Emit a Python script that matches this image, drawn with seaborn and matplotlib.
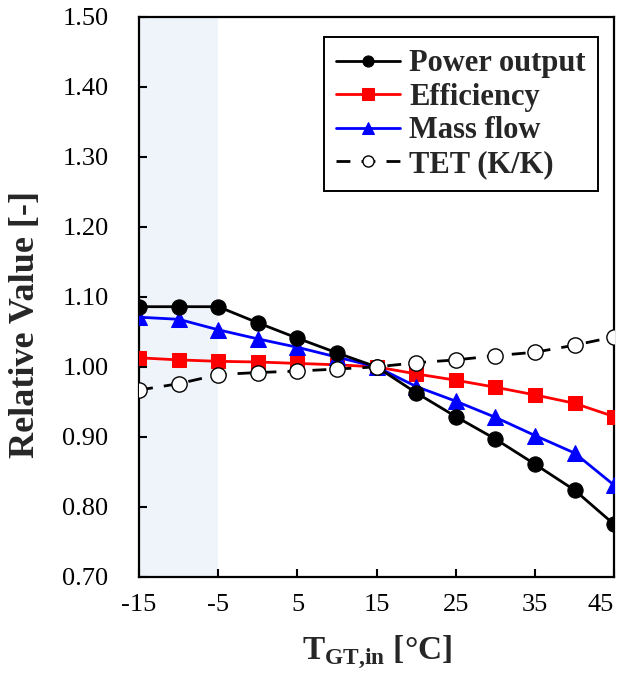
import matplotlib
matplotlib.use("Agg")
import matplotlib.pyplot as plt
import pandas as pd
import seaborn as sns

# -------------------------------
# Data
# -------------------------------
temps = [-15, -10, -5, 0, 5, 10, 15, 20, 25, 30, 35, 40, 45]
power_output = [1.086, 1.086, 1.086, 1.063, 1.041, 1.020, 1.000, 0.963, 0.929, 0.897, 0.861, 0.824, 0.775]
efficiency = [1.013, 1.010, 1.008, 1.007, 1.005, 1.003, 1.000, 0.990, 0.981, 0.971, 0.960, 0.948, 0.929]
mass_flow = [1.071, 1.068, 1.053, 1.040, 1.028, 1.014, 1.000, 0.972, 0.951, 0.928, 0.902, 0.877, 0.831]
tet = [0.967, 0.976, 0.989, 0.992, 0.994, 0.997, 1.000, 1.006, 1.010, 1.016, 1.021, 1.031, 1.043]

shade_range = (-15, -5)
x_ticks = [-15, -5, 5, 15, 25, 35, 45]
y_ticks = [0.70, 0.80, 0.90, 1.00, 1.10, 1.20, 1.30, 1.40, 1.50]

df = pd.DataFrame({
    "T": temps,
    "Power output": power_output,
    "Efficiency": efficiency,
    "Mass flow": mass_flow,
    "TET (K/K)": tet,
})

# -------------------------------
# Style
# -------------------------------
sns.set_style("ticks")
plt.rcParams["font.family"] = ["Liberation Serif", "DejaVu Serif"]
plt.rcParams["axes.unicode_minus"] = False
plt.rcParams["mathtext.fontset"] = "custom"
plt.rcParams["mathtext.rm"] = "Liberation Serif"
plt.rcParams["mathtext.bf"] = "Liberation Serif:bold"

fig = plt.figure(figsize=(6.21, 6.74), dpi=100)
ax = fig.add_axes([0.224, 0.144, 0.765, 0.831])

ax.axvspan(*shade_range, color="#eef4fa", zorder=0, lw=0)

lw = 2.0
sns.lineplot(data=df, x="T", y="Power output", ax=ax, color="black", lw=lw,
             marker="o", markersize=11, markeredgecolor="black",
             label="Power output", zorder=4)
sns.lineplot(data=df, x="T", y="Efficiency", ax=ax, color="#ff0000", lw=lw,
             marker="s", markersize=10, markeredgecolor="#ff0000",
             label="Efficiency", zorder=3)
sns.lineplot(data=df, x="T", y="Mass flow", ax=ax, color="#0000ff", lw=lw,
             marker="^", markersize=11, markeredgecolor="#0000ff",
             label="Mass flow", zorder=3)
sns.lineplot(data=df, x="T", y="TET (K/K)", ax=ax, color="black", lw=lw,
             linestyle=(0, (5, 4)), marker="o", markersize=11,
             markerfacecolor="white", markeredgecolor="black", markeredgewidth=1.0,
             label="TET (K/K)", zorder=5)

ax.set_xlim(-15, 45)
ax.set_ylim(0.70, 1.50)
ax.set_xticks(x_ticks)
ax.set_yticks(y_ticks)
ax.set_yticklabels([f"{v:.2f}" for v in y_ticks])
ax.tick_params(direction="in", length=6, width=1.5, labelsize=19, colors="black")
ax.tick_params(axis="x", pad=12)
ax.tick_params(axis="y", pad=22)
# keep the last x label inside the figure, as in the reference
ax.get_xticklabels()[-1].set_horizontalalignment("right")

for s in ax.spines.values():
    s.set_visible(True)
    s.set_linewidth(1.6)
    s.set_color("black")

ax.set_xlabel(r"$\mathbf{T}_{\mathbf{GT{,}in}}$ [°C]", fontsize=24,
              fontweight="bold", labelpad=13)
ax.set_ylabel("Relative Value [-]", fontsize=26, fontweight="bold")
ax.yaxis.set_label_coords(-0.205, 0.45)

leg = ax.legend(loc="upper right", bbox_to_anchor=(0.966, 0.964), frameon=True,
                fancybox=False, edgecolor="black", framealpha=1,
                prop={"family": "Liberation Serif", "weight": "bold", "size": 22},
                handlelength=2.1, labelspacing=0.15, handletextpad=0.3,
                borderpad=0.4, borderaxespad=0)
leg.get_frame().set_linewidth(1.4)
for h in leg.legend_handles:
    h.set_markersize(8)

plt.savefig("out.png", dpi=100)
